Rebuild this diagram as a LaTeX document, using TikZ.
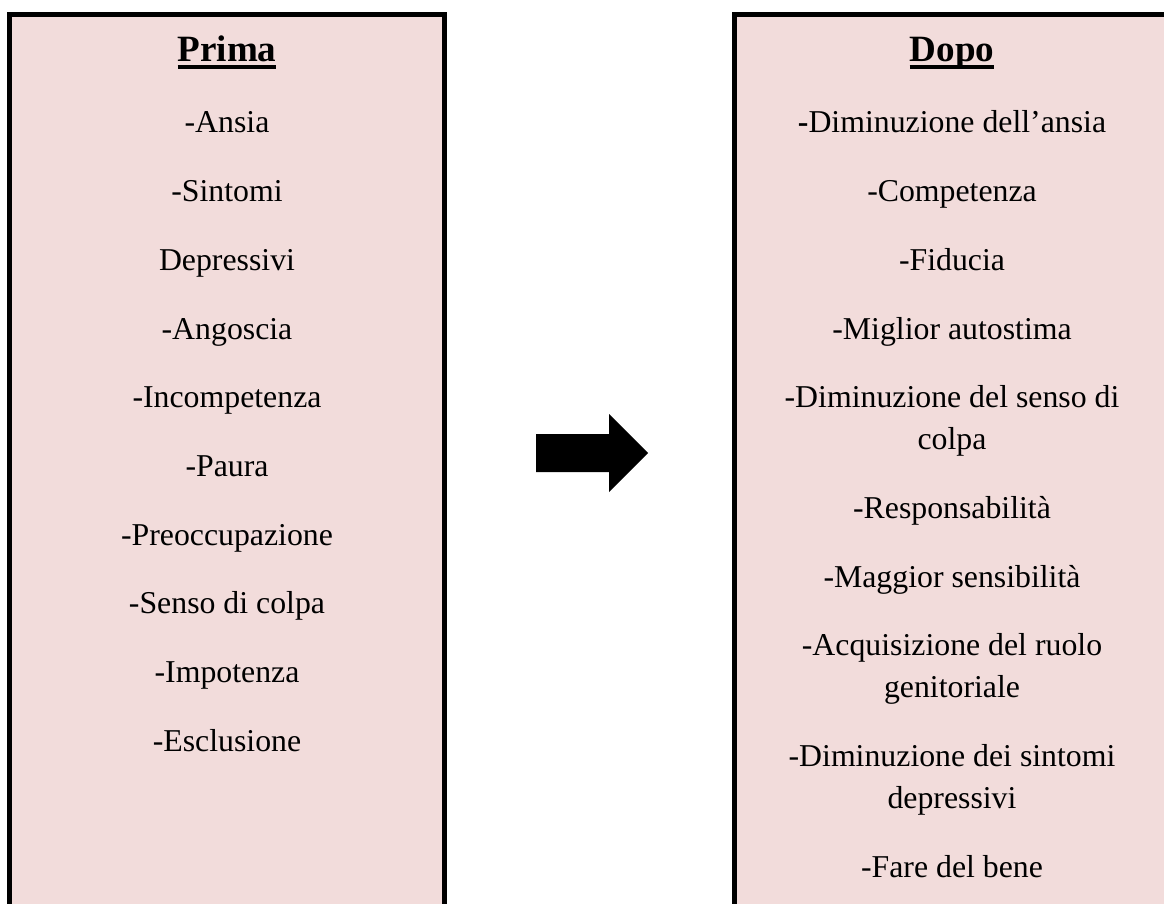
\documentclass[tikz,border=0pt]{standalone}
\usepackage{fontspec}
\setmainfont{Liberation Serif}
\definecolor{boxfill}{HTML}{F2DCDB}
\newcommand\hdul[1]{\setbox0\hbox{#1}\rlap{\rule[-2.6pt]{\wd0}{1.4pt}}\box0}
\begin{document}
\begin{tikzpicture}[x=0.3774pt,y=-0.3774pt,
  panel/.style={draw=black,line width=1.9pt,fill=boxfill},
  item/.style={anchor=base,inner sep=0pt,font=\fontsize{12}{14}\selectfont},
  head/.style={anchor=base,inner sep=0pt,font=\fontsize{14}{16}\selectfont\bfseries}]
\useasboundingbox (0,0) rectangle (1164,904);
\clip (0,0) rectangle (1164,904);
\draw[panel] (9.5,14.5) rectangle (444.5,940);
\draw[panel] (734.5,14.5) rectangle (1169.5,940);
% left panel
\node[head] (prima) at (227,62) {\hdul{Prima}};
\node[item] (l1) at (227,133) {-Ansia};
\node[item] (l2) at (227,201.7) {-Sintomi};
\node[item] (l3) at (227,270.4) {Depressivi};
\node[item] (l4) at (227,339.1) {-Angoscia};
\node[item] (l5) at (227,407.8) {-Incompetenza};
\node[item] (l6) at (227,476.5) {-Paura};
\node[item] (l7) at (227,545.2) {-Preoccupazione};
\node[item] (l8) at (227,613.9) {-Senso di colpa};
\node[item] (l9) at (227,682.6) {-Impotenza};
\node[item] (l10) at (227,751.3) {-Esclusione};
% right panel
\node[head] (dopo) at (952,62) {\hdul{Dopo}};
\node[item] (r1) at (952,133) {\textbf{-}Diminuzione dell’ansia};
\node[item] (r2) at (952,201.7) {-Competenza};
\node[item] (r3) at (952,270.4) {-Fiducia};
\node[item] (r4) at (952,339.1) {-Miglior autostima};
\node[item] (r5a) at (952,407.8) {-Diminuzione del senso di};
\node[item] (r5b) at (952,449.8) {colpa};
\node[item] (r6) at (952,518.5) {-Responsabilità};
\node[item] (r7) at (952,587.2) {-Maggior sensibilità};
\node[item] (r8a) at (952,655.9) {-Acquisizione del ruolo};
\node[item] (r8b) at (952,697.9) {genitoriale};
\node[item] (r9a) at (952,766.6) {-Diminuzione dei sintomi};
\node[item] (r9b) at (952,808.6) {depressivi};
\node[item] (r10) at (952,877.3) {-Fare del bene};
% arrow
\fill[black] (536,434) -- (609,434) -- (609,414) -- (648,453) -- (609,492) -- (609,472) -- (536,472) -- cycle;
\end{tikzpicture}
\end{document}
